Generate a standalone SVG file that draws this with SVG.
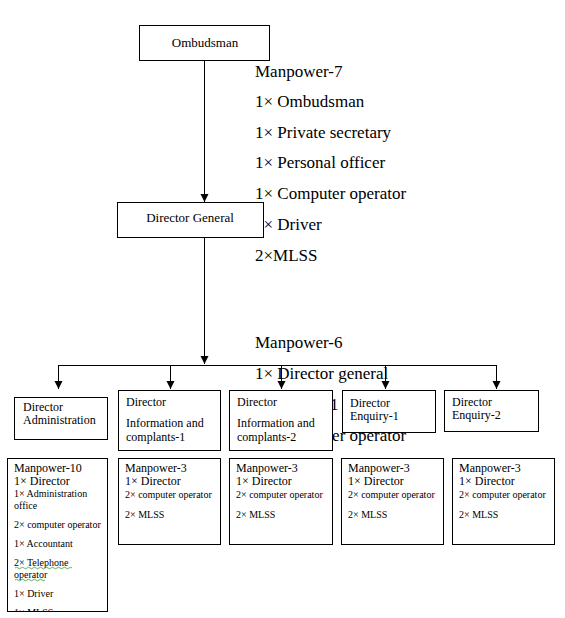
<svg xmlns="http://www.w3.org/2000/svg" width="565" height="618" viewBox="0 0 565 618" font-family="'Liberation Serif', 'Times New Roman', serif">
<style>
.box{fill:#fff;stroke:#000;stroke-width:1}
.ln{fill:none;stroke:#000;stroke-width:1}
.t{fill:#000;font-family:'Liberation Serif','Times New Roman',serif}
.big{font-size:17px}
.m{font-size:13px}
.s{font-size:12px}
.xs{font-size:10px}
.sq{fill:none;stroke:#3a9a3a;stroke-width:0.8}
</style>
<defs>
<marker id="ah" viewBox="0 0 8 10" refX="8" refY="5" markerWidth="8" markerHeight="10" markerUnits="userSpaceOnUse" orient="auto">
<path d="M0,1 L8,5 L0,9 Z" fill="#000"/>
</marker>
<clipPath id="clipL"><rect x="7" y="458" width="101" height="153"/></clipPath>
</defs>
<rect width="565" height="618" fill="#fff"/>

<g id="manpower7" class="t big">
<text x="255" y="77">Manpower-7</text>
<text x="255" y="107">1× Ombudsman</text>
<text x="255" y="138">1× Private secretary</text>
<text x="255" y="168">1× Personal officer</text>
<text x="255" y="199">1× Computer operator</text>
<text x="255" y="230">1× Driver</text>
<text x="255" y="261">2×MLSS</text>
</g>
<g id="manpower6" class="t big">
<text x="255" y="348">Manpower-6</text>
<text x="255" y="379">1× Director general</text>
<text x="330" y="410">1</text>
<text x="255" y="441">1× Computer operator</text>
</g>

<g id="connectors">
<line class="ln" x1="204.5" y1="60" x2="204.5" y2="202" marker-end="url(#ah)"/>
<line class="ln" x1="204.5" y1="237" x2="204.5" y2="364" marker-end="url(#ah)"/>
<line class="ln" x1="58.5" y1="365.5" x2="496.5" y2="365.5"/>
<line class="ln" x1="58.5" y1="365" x2="58.5" y2="389" marker-end="url(#ah)"/>
<line class="ln" x1="170.5" y1="365" x2="170.5" y2="389" marker-end="url(#ah)"/>
<line class="ln" x1="281.5" y1="365" x2="281.5" y2="389" marker-end="url(#ah)"/>
<line class="ln" x1="385.5" y1="365" x2="385.5" y2="389" marker-end="url(#ah)"/>
<line class="ln" x1="496.5" y1="365" x2="496.5" y2="389" marker-end="url(#ah)"/>
</g>

<g id="ombudsman">
<rect class="box" x="139.5" y="25.5" width="130" height="35"/>
<text class="t m" x="205" y="47" text-anchor="middle">Ombudsman</text>
</g>
<g id="director-general">
<rect class="box" x="117.5" y="202.5" width="146" height="35"/>
<text class="t m" x="190" y="222" text-anchor="middle">Director General</text>
</g>

<g id="dir-admin">
<rect class="box" x="14.5" y="397.5" width="93" height="42"/>
<text class="t s" x="23" y="411">Director</text>
<text class="t s" x="23" y="424">Administration</text>
</g>
<g id="dir-info1">
<rect class="box" x="118.5" y="390.5" width="102" height="60"/>
<text class="t s" x="126" y="406">Director</text>
<text class="t s" x="126" y="427">Information and</text>
<text class="t s" x="126" y="441">complants-1</text>
</g>
<g id="dir-info2">
<rect class="box" x="229.5" y="390.5" width="103" height="60"/>
<text class="t s" x="237" y="406">Director</text>
<text class="t s" x="237" y="427">Information and</text>
<text class="t s" x="237" y="441">complants-2</text>
</g>
<g id="dir-enq1">
<rect class="box" x="342.5" y="390.5" width="93" height="42"/>
<text class="t s" x="350" y="407">Director</text>
<text class="t s" x="350" y="420">Enquiry-1</text>
</g>
<g id="dir-enq2">
<rect class="box" x="444.5" y="390.5" width="94" height="41"/>
<text class="t s" x="452" y="406">Director</text>
<text class="t s" x="452" y="419">Enquiry-2</text>
</g>

<g id="mp-admin">
<rect class="box" x="7.5" y="458.5" width="100" height="153"/>
<g clip-path="url(#clipL)">
<text class="t s" x="14" y="472">Manpower-10</text>
<text class="t s" x="14" y="485">1× Director</text>
<text class="t xs" x="14" y="497">1× Administration</text>
<text class="t xs" x="14" y="509">office</text>
<text class="t xs" x="14" y="528">2× computer operator</text>
<text class="t xs" x="14" y="547">1× Accountant</text>
<text class="t xs" x="14" y="566">2× Telephone</text>
<text class="t xs" x="14" y="578">operator</text>
<text class="t xs" x="14" y="597">1× Driver</text>
<text class="t xs" x="14" y="616">1× MLSS</text>
</g>
<path class="sq" d="M15,568 q1.5,-1.5 3,0 t3,0 t3,0 t3,0 t3,0 t3,0 t3,0 t3,0 t3,0 t3,0 t3,0 t3,0 t3,0 t3,0 t3,0 t3,0 t3,0 t3,0 t3,0"/>
<path class="sq" d="M15,580 q1.5,-1.5 3,0 t3,0 t3,0 t3,0 t3,0 t3,0 t3,0 t3,0 t3,0 t3,0"/>
</g>

<g id="mp-info1">
<rect class="box" x="118.5" y="458.5" width="102" height="86"/>
<text class="t s" x="125" y="472">Manpower-3</text>
<text class="t s" x="125" y="485">1× Director</text>
<text class="t xs" x="125" y="498">2× computer operator</text>
<text class="t xs" x="125" y="518">2× MLSS</text>
</g>
<g id="mp-info2">
<rect class="box" x="229.5" y="458.5" width="103" height="86"/>
<text class="t s" x="236" y="472">Manpower-3</text>
<text class="t s" x="236" y="485">1× Director</text>
<text class="t xs" x="236" y="498">2× computer operator</text>
<text class="t xs" x="236" y="518">2× MLSS</text>
</g>
<g id="mp-enq1">
<rect class="box" x="341.5" y="458.5" width="102" height="86"/>
<text class="t s" x="348" y="472">Manpower-3</text>
<text class="t s" x="348" y="485">1× Director</text>
<text class="t xs" x="348" y="498">2× computer operator</text>
<text class="t xs" x="348" y="518">2× MLSS</text>
</g>
<g id="mp-enq2">
<rect class="box" x="452.5" y="458.5" width="102" height="86"/>
<text class="t s" x="459" y="472">Manpower-3</text>
<text class="t s" x="459" y="485">1× Director</text>
<text class="t xs" x="459" y="498">2× computer operator</text>
<text class="t xs" x="459" y="518">2× MLSS</text>
</g>
</svg>
